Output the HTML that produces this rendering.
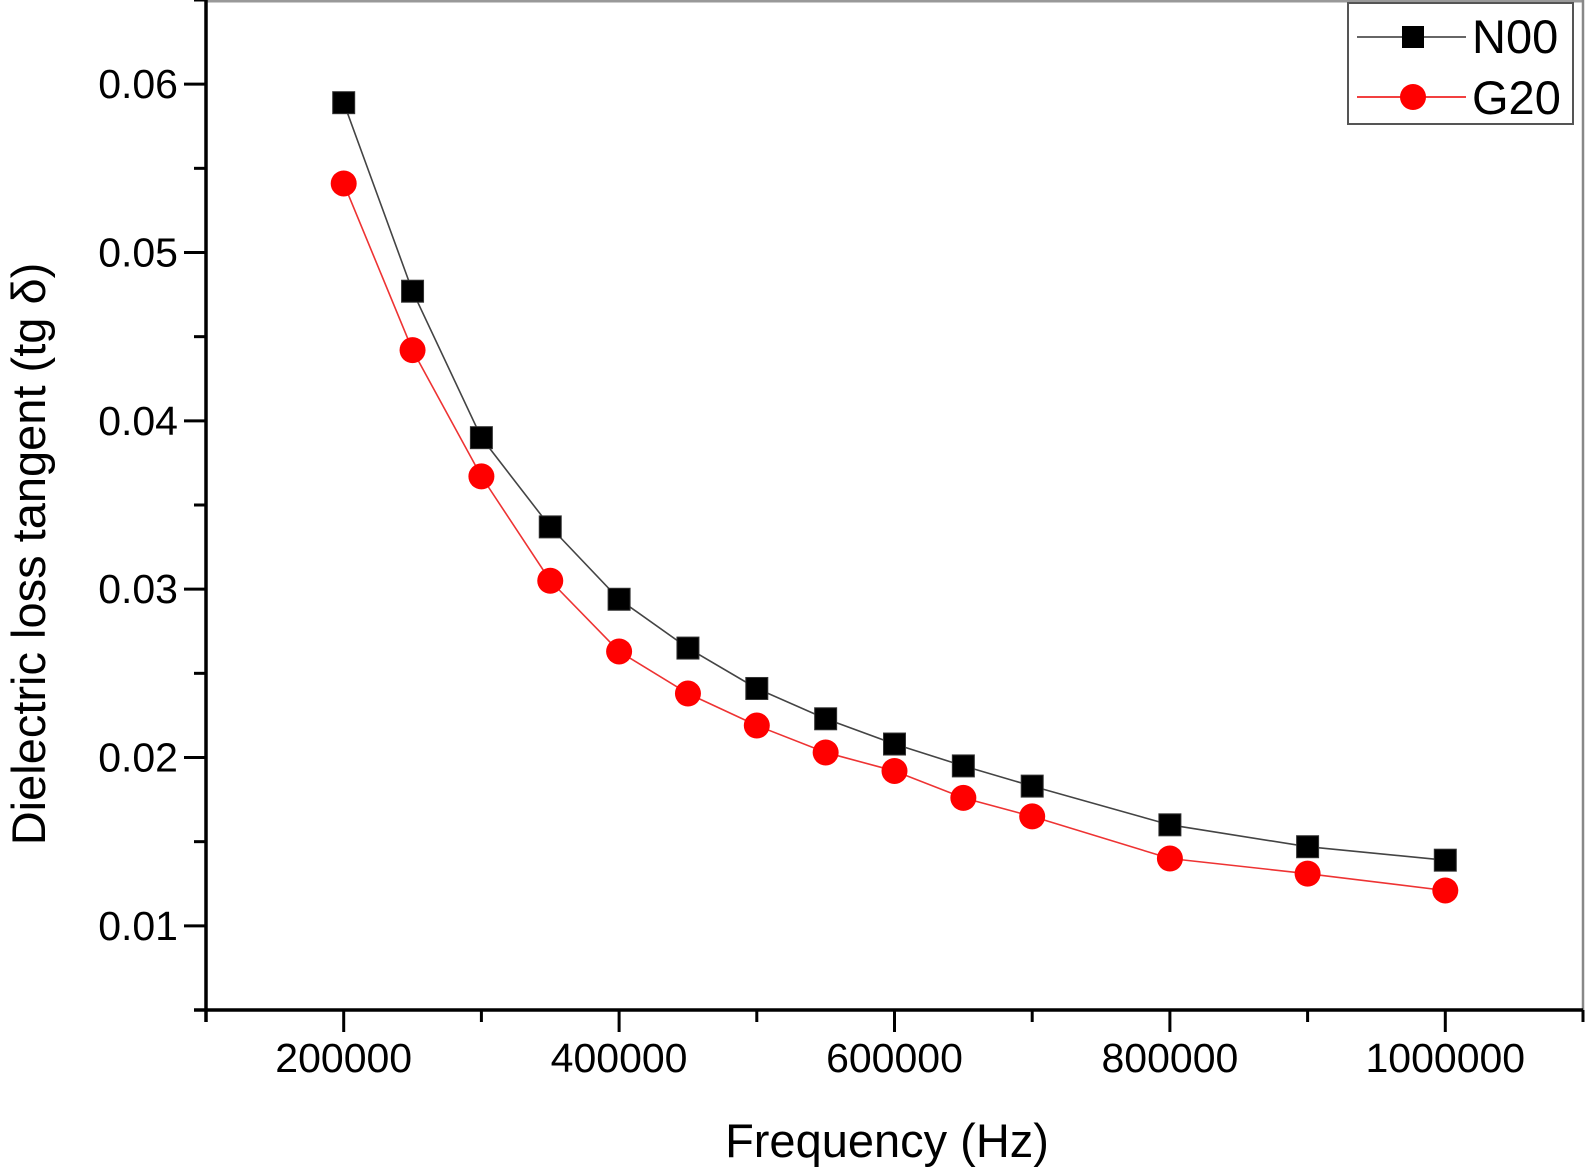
<!DOCTYPE html>
<html><head><meta charset="utf-8"><style>
body{margin:0;background:#fff;}
svg text{font-family:"Liberation Sans",Arial,sans-serif;fill:#000;}
</style></head><body>
<svg id="chart" width="1586" height="1167" viewBox="0 0 1586 1167" xmlns="http://www.w3.org/2000/svg">
<g id="axes"></g>
<g id="series"></g>
<g id="legend">
 <rect x="1348" y="3" width="225" height="121" fill="#fff" stroke="#555" stroke-width="2"/>
 <g>
  <line x1="1357" y1="37" x2="1466" y2="37" stroke="#333" stroke-width="1.5"/>
  <rect x="1402" y="26" width="22" height="22" fill="#000"/>
  <text x="1472" y="53" font-size="47">N00</text>
 </g>
 <g>
  <line x1="1357" y1="97" x2="1466" y2="97" stroke="#e00" stroke-width="1.5"/>
  <circle cx="1413" cy="97" r="13" fill="#f00"/>
  <text x="1472" y="114" font-size="47">G20</text>
 </g>
</g>
<text x="887" y="1157" font-size="47" text-anchor="middle">Frequency (Hz)</text>
<text x="0" y="0" font-size="47" text-anchor="middle" transform="translate(45,554) rotate(-90)">Dielectric loss tangent (tg δ)</text>
</svg>
<script>
const categories=[200000,250000,300000,350000,400000,450000,500000,550000,600000,650000,700000,800000,900000,1000000];
const n00Values=[0.0589,0.0477,0.0390,0.0337,0.0294,0.0265,0.0241,0.0223,0.0208,0.0195,0.0183,0.0160,0.0147,0.0139];
const g20Values=[0.0541,0.0442,0.0367,0.0305,0.0263,0.0238,0.0219,0.0203,0.0192,0.0176,0.0165,0.0140,0.0131,0.0121];
const xTicks=[200000,400000,600000,800000,1000000];
const yTicks=[0.01,0.02,0.03,0.04,0.05,0.06];
const xMin=100000,xMax=1100000,yMin=0.005,yMax=0.065;
const L=206,R=1583,T=0,B=1010;
const NS="http://www.w3.org/2000/svg";
function sx(v){return L+(v-xMin)/(xMax-xMin)*(R-L);}
function sy(v){return B-(v-yMin)/(yMax-yMin)*(B-T);}
function mk(tag,attrs,parent){const e=document.createElementNS(NS,tag);for(const k in attrs)e.setAttribute(k,attrs[k]);parent.appendChild(e);return e;}
const ax=document.getElementById('axes');
let e;
e=mk('line',{x1:L,y1:1,x2:R,y2:1,stroke:'#999','stroke-width':3},ax);


e=mk('line',{x1:R,y1:0,x2:R,y2:B+10,stroke:'#888','stroke-width':2.5},ax);


e=mk('line',{x1:L,y1:0,x2:L,y2:B+12,stroke:'#000','stroke-width':3.5},ax);


e=mk('line',{x1:L-12,y1:B,x2:R,y2:B,stroke:'#000','stroke-width':3.5},ax);


for(let v=xMin;v<=xMax+1;v+=100000){
  const major=xTicks.indexOf(v)>=0;
  e=mk('line',{x1:sx(v),y1:B,x2:sx(v),y2:B+(major?22:12),stroke:'#000','stroke-width':3},ax);
  
  
}
xTicks.forEach(v=>{
  e=mk('text',{x:sx(v),y:B+62,'font-size':41,'text-anchor':'middle'},ax);
  e.textContent=String(v);
  
  
});
for(let i=0;i<=12;i++){
  const v=yMin+i*0.005;
  const major=yTicks.some(t=>Math.abs(t-v)<1e-9);
  e=mk('line',{x1:L-(major?22:12),y1:sy(v),x2:L,y2:sy(v),stroke:'#000','stroke-width':3},ax);
  
  
}
yTicks.forEach(v=>{
  e=mk('text',{x:178,y:sy(v)+14,'font-size':41,'text-anchor':'end'},ax);
  e.textContent=v.toFixed(2);
  
  
});
const sg=document.getElementById('series');
function drawSeries(vals,color,lineColor,shape,name){
  const pts=categories.map((c,i)=>sx(c)+','+sy(vals[i])).join(' ');
  e=mk('polyline',{points:pts,fill:'none',stroke:lineColor,'stroke-width':1.6},sg);
  
  
  categories.forEach((c,i)=>{
    if(shape==='square'){
      e=mk('rect',{x:sx(c)-11,y:sy(vals[i])-11,width:22,height:22,fill:color,stroke:'#333','stroke-width':1},sg);
    }else{
      e=mk('circle',{cx:sx(c),cy:sy(vals[i]),r:13,fill:color},sg);
    }
    
    
  });
}
drawSeries(g20Values,'#f00','#e33','circle','g20');
drawSeries(n00Values,'#000','#444','square','n00');
</script>
</body></html>
